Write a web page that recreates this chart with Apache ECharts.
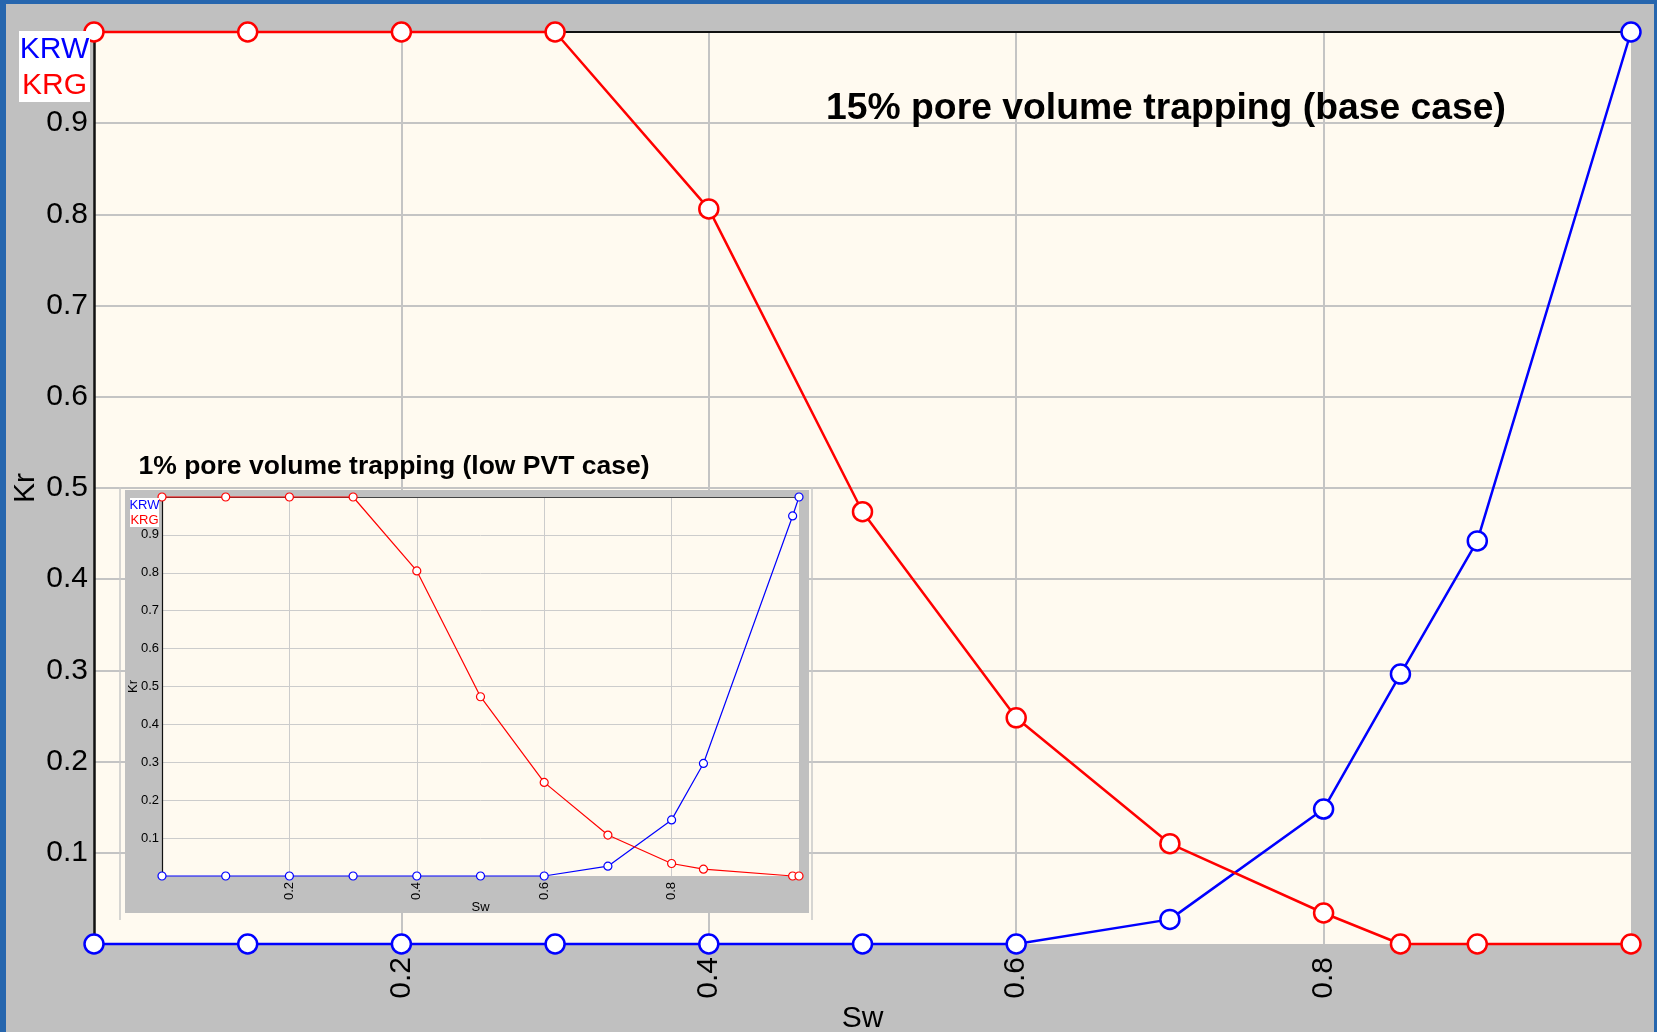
<!DOCTYPE html>
<html>
<head>
<meta charset="utf-8">
<style>
  html, body { margin: 0; padding: 0; background: #c0c0c0; }
  #chart { width: 1657px; height: 1032px; }
</style>
<script src="https://cdn.jsdelivr.net/npm/echarts@6/dist/echarts.min.js"></script>
</head>
<body>
<div id="chart"></div>
<script>
// base case (15% pore volume trapping)
var swMain = [0, 0.1, 0.2, 0.3, 0.4, 0.5, 0.6, 0.7, 0.8, 0.85, 0.9, 1.0];
var krwMain = [0, 0, 0, 0, 0, 0, 0, 0.027, 0.148, 0.296, 0.442, 1.0];
var krgMain = [1.0, 1.0, 1.0, 1.0, 0.806, 0.474, 0.248, 0.110, 0.034, 0, 0, 0];

// low PVT case (1% pore volume trapping)
var swInset = [0, 0.1, 0.2, 0.3, 0.4, 0.5, 0.6, 0.7, 0.8, 0.85, 0.99, 1.0];
var krwInset = [0, 0, 0, 0, 0, 0, 0, 0.026, 0.148, 0.297, 0.95, 1.0];
var krgInset = [1.0, 1.0, 1.0, 1.0, 0.805, 0.473, 0.247, 0.108, 0.033, 0.018, 0, 0];

var mainTitle = '15% pore volume trapping (base case)';
var insetTitle = '1% pore volume trapping (low PVT case)';

var FONT = "'Liberation Sans', Arial, Helvetica, sans-serif";
var BLUE = '#0000ff';
var RED = '#ff0000';
var CREAM = '#fffaf0';
var GRAY = '#c0c0c0';

function pairs(xs, ys) {
  return xs.map(function (x, i) { return [x, ys[i]]; });
}

function valueAxis(gridIndex, opts) {
  return Object.assign({
    type: 'value',
    gridIndex: gridIndex,
    min: 0,
    max: 1,
    axisTick: { show: false },
    nameMoveOverlap: false
  }, opts);
}

function curve(name, xs, ys, color, axisIndex, size, width, z) {
  return {
    name: name,
    type: 'line',
    xAxisIndex: axisIndex,
    yAxisIndex: axisIndex,
    data: pairs(xs, ys),
    symbol: 'circle',
    symbolSize: size,
    showAllSymbol: true,
    clip: false,
    z: z,
    lineStyle: { color: color, width: width },
    itemStyle: { color: '#fff', borderColor: color, borderWidth: width },
    emphasis: { disabled: true }
  };
}

var chart = echarts.init(document.getElementById('chart'));

chart.setOption({
  animation: false,
  backgroundColor: GRAY,
  textStyle: { fontFamily: FONT },
  grid: [
    { left: 94, top: 32, width: 1537, height: 912, show: true, backgroundColor: CREAM,
      borderWidth: 0, outerBoundsMode: 'none' },
    { left: 162, top: 497, width: 637, height: 379, show: true, backgroundColor: CREAM,
      borderWidth: 0, z: 4, outerBoundsMode: 'none' }
  ],
  xAxis: [
    valueAxis(0, {
      interval: 0.2,
      name: 'Sw',
      nameLocation: 'middle',
      nameGap: 60,
      nameTextStyle: { fontSize: 30, color: '#000', fontFamily: FONT },
      axisLine: { show: false },
      axisLabel: { rotate: 90, fontSize: 30, color: '#000', margin: 13, fontFamily: FONT,
        showMinLabel: false, showMaxLabel: false },
      splitLine: { show: true, showMinLine: false, showMaxLine: false,
        lineStyle: { color: '#c4c4c4', width: 2 } }
    }),
    valueAxis(0, {
      position: 'top',
      axisLine: { show: true, onZero: false, lineStyle: { color: '#111', width: 2 } },
      axisLabel: { show: false },
      splitLine: { show: false }
    }),
    valueAxis(1, {
      interval: 0.2,
      z: 5,
      name: 'Sw',
      nameLocation: 'middle',
      nameGap: 25,
      nameTextStyle: { fontSize: 13, color: '#000', fontFamily: FONT },
      axisLine: { show: false },
      axisLabel: { rotate: 90, fontSize: 13, color: '#000', margin: 6, fontFamily: FONT,
        showMinLabel: false, showMaxLabel: false },
      splitLine: { show: true, showMinLine: false, showMaxLine: false,
        lineStyle: { color: '#cccccc', width: 1 } }
    }),
    valueAxis(1, {
      position: 'top',
      z: 5,
      axisLine: { show: true, onZero: false, lineStyle: { color: '#444', width: 1.2 } },
      axisLabel: { show: false },
      splitLine: { show: false }
    })
  ],
  yAxis: [
    valueAxis(0, {
      interval: 0.1,
      name: 'Kr',
      nameLocation: 'middle',
      nameGap: 53,
      nameRotate: 90,
      nameTextStyle: { fontSize: 30, color: '#000', fontFamily: FONT },
      axisLine: { show: true, onZero: false, lineStyle: { color: '#111', width: 2.5 } },
      axisLabel: { fontSize: 30, color: '#000', margin: 6, fontFamily: FONT,
        showMinLabel: false, showMaxLabel: false },
      splitLine: { show: true, showMinLine: false, showMaxLine: false,
        lineStyle: { color: '#c4c4c4', width: 2 } }
    }),
    valueAxis(0, { show: false, splitLine: { show: false } }),
    valueAxis(1, {
      interval: 0.1,
      z: 5,
      name: 'Kr',
      nameLocation: 'middle',
      nameGap: 22,
      nameRotate: 90,
      nameTextStyle: { fontSize: 13, color: '#000', fontFamily: FONT },
      axisLine: { show: true, onZero: false, lineStyle: { color: '#111', width: 1.2 } },
      axisLabel: { fontSize: 13, color: '#000', margin: 3, fontFamily: FONT,
        showMinLabel: false, showMaxLabel: false },
      splitLine: { show: true, showMinLine: false, showMaxLine: false,
        lineStyle: { color: '#cccccc', width: 1 } }
    }),
    valueAxis(1, { show: false, splitLine: { show: false } })
  ],
  series: [
    curve('KRW', swMain, krwMain, BLUE, 0, 19, 2.5, 2),
    curve('KRG', swMain, krgMain, RED, 0, 19, 2.5, 2),
    curve('KRW', swInset, krwInset, BLUE, 2, 8, 1.2, 6),
    curve('KRG', swInset, krgInset, RED, 2, 8, 1.2, 6)
  ],
  graphic: [
    // window frame
    { type: 'rect', z: 20, silent: true, shape: { x: 0, y: 0, width: 1657, height: 4 }, style: { fill: '#2666ae' } },
    { type: 'rect', z: 20, silent: true, shape: { x: 0, y: 0, width: 6, height: 1032 }, style: { fill: '#2666ae' } },
    { type: 'rect', z: 20, silent: true, shape: { x: 1654, y: 0, width: 3, height: 1032 }, style: { fill: '#2666ae' } },

    // main legend + title
    { type: 'rect', z: 10, silent: true, shape: { x: 19, y: 31, width: 71, height: 71 }, style: { fill: '#fff' } },
    { type: 'text', z: 11, silent: true, x: 54.5, y: 50,
      style: { text: 'KRW', fill: BLUE, font: '30px ' + FONT, textAlign: 'center', textVerticalAlign: 'middle' } },
    { type: 'text', z: 11, silent: true, x: 54.5, y: 86,
      style: { text: 'KRG', fill: RED, font: '30px ' + FONT, textAlign: 'center', textVerticalAlign: 'middle' } },
    { type: 'text', z: 11, silent: true, x: 1166, y: 109,
      style: { text: mainTitle, fill: '#000', font: 'bold 37.3px ' + FONT, textAlign: 'center', textVerticalAlign: 'middle' } },

    // inset frame and panel
    { type: 'line', z: 3, silent: true, shape: { x1: 120, y1: 487, x2: 120, y2: 920 }, style: { stroke: '#c8c8c8', lineWidth: 1.5 } },
    { type: 'line', z: 3, silent: true, shape: { x1: 812, y1: 487, x2: 812, y2: 920 }, style: { stroke: '#c8c8c8', lineWidth: 1.5 } },
    { type: 'rect', z: 3, silent: true, shape: { x: 125, y: 490, width: 684, height: 423 }, style: { fill: GRAY } },
    { type: 'text', z: 11, silent: true, x: 394, y: 467,
      style: { text: insetTitle, fill: '#000', font: 'bold 26.5px ' + FONT, textAlign: 'center', textVerticalAlign: 'middle' } },
    { type: 'rect', z: 10, silent: true, shape: { x: 130, y: 498, width: 29, height: 29 }, style: { fill: '#fff' } },
    { type: 'text', z: 11, silent: true, x: 144.5, y: 505,
      style: { text: 'KRW', fill: BLUE, font: '13px ' + FONT, textAlign: 'center', textVerticalAlign: 'middle' } },
    { type: 'text', z: 11, silent: true, x: 144.5, y: 520,
      style: { text: 'KRG', fill: RED, font: '13px ' + FONT, textAlign: 'center', textVerticalAlign: 'middle' } }
  ]
});
</script>
</body>
</html>
